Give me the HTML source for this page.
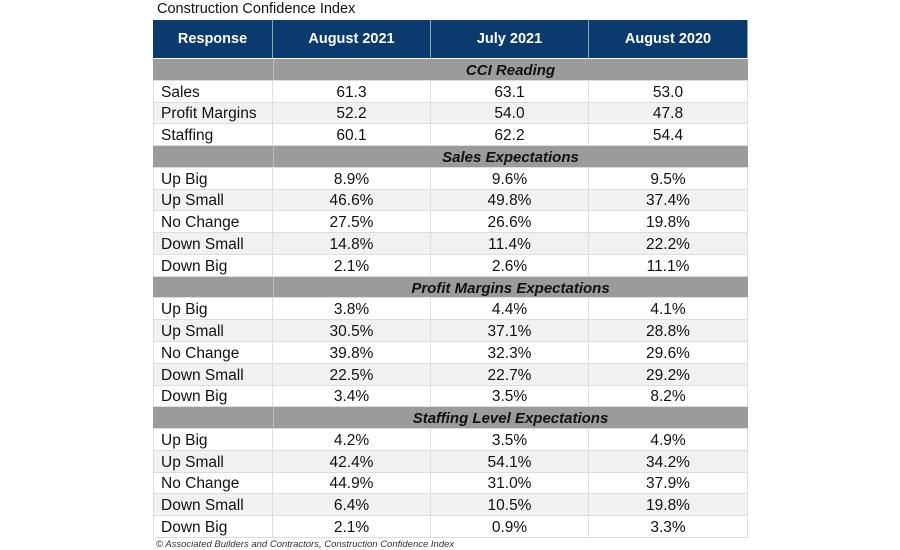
<!DOCTYPE html>
<html><head><style>
body{margin:0;width:900px;height:550px;background:#fff;position:relative;font-family:"Liberation Sans",Arial,sans-serif;overflow:hidden}
.t{position:absolute;left:157px;top:1px;font-size:14.5px;color:#111}
.f{position:absolute;left:156px;top:539px;font-size:9.5px;font-style:italic;color:#333}
.r{position:absolute;left:153px;width:595px;display:flex;box-sizing:border-box;border-bottom:1px solid #ddd}
.r div{box-sizing:border-box;border-right:1px solid #ddd;text-align:center;font-size:15.5px;color:#111;display:flex;align-items:center;justify-content:center;padding-top:2px}
.r div:first-child{justify-content:flex-start;padding-left:7px;border-left:1px solid #ddd}
.c0{width:120px}.c1{width:158px}.c2{width:158px}.c3{width:159px}
.h{background:#0b3a6e;border-bottom:1px solid #fff}
.h div{color:#fff;font-weight:bold;font-size:14.5px;border-right:1px solid #8aa;padding-top:0}
.h div:first-child{justify-content:center;padding:0;border-left:none}
.s{background:#9b9b9b;position:absolute;left:153px;width:595px;box-sizing:border-box;border-bottom:1px solid #ddd}
.s span{position:absolute;left:120px;width:475px;top:1px;text-align:center;font-weight:bold;font-style:italic;font-size:15px;color:#111}
.s i{position:absolute;left:120px;top:0;bottom:0;border-left:1px solid #bbb}
.g{background:#f1f1f1}
</style></head><body>
<div class="t">Construction Confidence Index</div>
<div class="r h" style="top:20px;height:39px"><div class="c0">Response</div><div class="c1">August 2021</div><div class="c2">July 2021</div><div class="c3">August 2020</div></div>
<div id="rows"></div>
<div class="f">© Associated Builders and Contractors, Construction Confidence Index</div>
<script>
var data=[
["S","CCI Reading"],["Sales","61.3","63.1","53.0"],["Profit Margins","52.2","54.0","47.8"],["Staffing","60.1","62.2","54.4"],
["S","Sales Expectations"],["Up Big","8.9%","9.6%","9.5%"],["Up Small","46.6%","49.8%","37.4%"],["No Change","27.5%","26.6%","19.8%"],["Down Small","14.8%","11.4%","22.2%"],["Down Big","2.1%","2.6%","11.1%"],
["S","Profit Margins Expectations"],["Up Big","3.8%","4.4%","4.1%"],["Up Small","30.5%","37.1%","28.8%"],["No Change","39.8%","32.3%","29.6%"],["Down Small","22.5%","22.7%","29.2%"],["Down Big","3.4%","3.5%","8.2%"],
["S","Staffing Level Expectations"],["Up Big","4.2%","3.5%","4.9%"],["Up Small","42.4%","54.1%","34.2%"],["No Change","44.9%","31.0%","37.9%"],["Down Small","6.4%","10.5%","19.8%"],["Down Big","2.1%","0.9%","3.3%"]];
var h="",y=59,rh=21.77,k=0;
data.forEach(function(d){
var top=Math.round(y),ht=Math.round(y+rh)-top;
if(d[0]=="S"){h+='<div class="s" style="top:'+top+'px;height:'+ht+'px"><i></i><span style="line-height:'+ht+'px">'+d[1]+'</span></div>';k=0;}
else{k++;h+='<div class="r'+(k%2==0?' g':'')+'" style="top:'+top+'px;height:'+ht+'px"><div class="c0">'+d[0]+'</div><div class="c1">'+d[1]+'</div><div class="c2">'+d[2]+'</div><div class="c3">'+d[3]+'</div></div>';}
y+=rh;});
document.getElementById("rows").innerHTML=h;
</script>
</body></html>
